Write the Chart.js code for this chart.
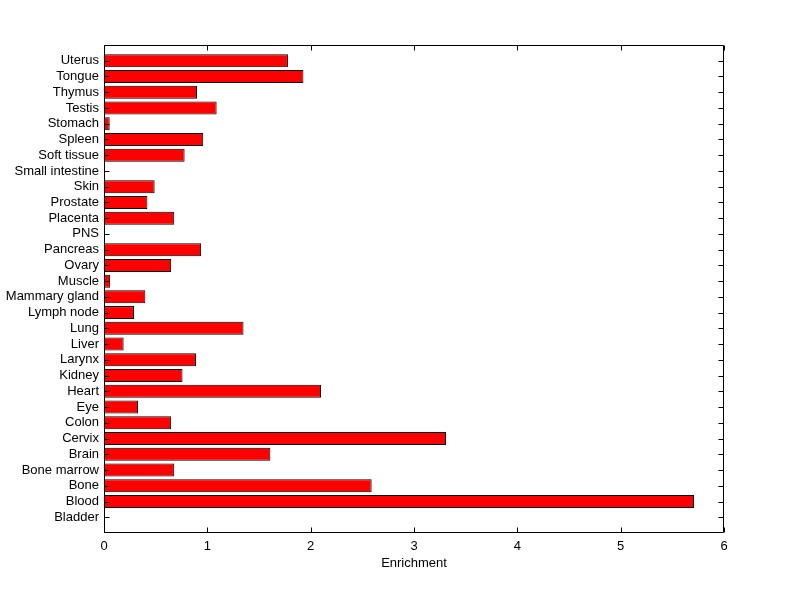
<!DOCTYPE html>
<html>
<head>
<meta charset="utf-8">
<script src="https://cdn.jsdelivr.net/npm/chart.js@4/dist/chart.umd.min.js"></script>
<style>
html,body{margin:0;padding:0;background:#fff;}
canvas{display:block;}
</style>
</head>
<body>
<canvas id="c" width="800" height="599"></canvas>
<script>
// Categories listed bottom-to-top (position 1 = bottom)
const categories = ["Bladder","Blood","Bone","Bone marrow","Brain","Cervix","Colon","Eye","Heart","Kidney",
  "Larynx","Liver","Lung","Lymph node","Mammary gland","Muscle","Ovary","Pancreas","PNS","Placenta",
  "Prostate","Skin","Small intestine","Soft tissue","Spleen","Stomach","Testis","Thymus","Tongue","Uterus"];
const enrichment = [0, 5.71, 2.59, 0.68, 1.61, 3.31, 0.65, 0.33, 2.10, 0.76,
  0.89, 0.19, 1.35, 0.29, 0.40, 0.06, 0.65, 0.94, 0, 0.68,
  0.42, 0.49, 0, 0.78, 0.96, 0.055, 1.09, 0.90, 1.93, 1.78];
const xTicks = [0, 1, 2, 3, 4, 5, 6];

const FONT = {family: "'Liberation Sans', Arial, Helvetica, sans-serif", size: 13};

const boxAndTicks = {
  id: 'boxAndTicks',
  afterDraw(chart) {
    const {ctx, chartArea: a, scales: {x, y}} = chart;
    ctx.save();
    ctx.strokeStyle = '#000';
    ctx.lineWidth = 1;
    const L = Math.round(a.left) + 0.5, R = Math.round(a.right) - 0.5;
    const T = Math.round(a.top) + 0.5, B = Math.round(a.bottom) - 0.5;
    ctx.beginPath();
    ctx.rect(L, T, R - L, B - T);
    const tl = 5;
    y.ticks.forEach(t => {
      const py = Math.round(y.getPixelForValue(t.value)) + 0.5;
      ctx.moveTo(L, py); ctx.lineTo(L + tl, py);
      ctx.moveTo(R, py); ctx.lineTo(R - tl, py);
    });
    x.ticks.forEach(t => {
      const px = Math.round(x.getPixelForValue(t.value)) + 0.5;
      ctx.moveTo(px, B); ctx.lineTo(px, B - tl);
      ctx.moveTo(px, T); ctx.lineTo(px, T + tl);
    });
    ctx.stroke();
    ctx.restore();
  }
};

new Chart(document.getElementById('c'), {
  type: 'bar',
  data: {
    datasets: [{
      data: categories.map((c, i) => ({x: enrichment[i], y: i + 1})),
      backgroundColor: '#ff0000',
      borderColor: '#000000',
      borderWidth: 1,
      borderSkipped: false,
      inflateAmount: 0,
      barThickness: 13
    }]
  },
  options: {
    indexAxis: 'y',
    responsive: false,
    animation: false,
    events: [],
    layout: {padding: {left: 0, right: 76, top: 45, bottom: 0}},
    plugins: {legend: {display: false}, tooltip: {enabled: false}},
    scales: {
      x: {
        type: 'linear',
        min: 0, max: 6,
        offset: false,
        afterBuildTicks: s => { s.ticks = xTicks.map(v => ({value: v})); },
        afterFit: s => { s.height = 66; },
        grid: {display: false, drawTicks: false},
        border: {display: false},
        ticks: {color: '#000', font: FONT, padding: 6, maxRotation: 0},
        title: {display: true, text: 'Enrichment', color: '#000', font: FONT, padding: {top: 0, bottom: 28}}
      },
      y: {
        type: 'linear',
        min: 0, max: 31,
        offset: false,
        afterBuildTicks: s => { s.ticks = categories.map((c, i) => ({value: i + 1})); },
        afterFit: s => { s.width = 104; },
        grid: {display: false, drawTicks: false, offset: false},
        border: {display: false},
        ticks: {color: '#000', font: FONT, padding: 5, autoSkip: false,
          callback: v => categories[v - 1] || ''}
      }
    }
  },
  plugins: [boxAndTicks]
});
</script>
</body>
</html>
